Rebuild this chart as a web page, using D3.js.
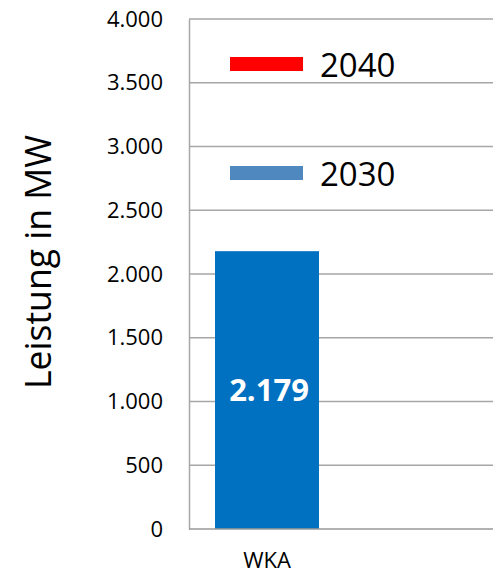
<!DOCTYPE html>
<html>
<head>
<meta charset="utf-8">
<script src="https://cdn.jsdelivr.net/npm/d3@7"></script>
<style>
  html, body { margin: 0; padding: 0; background: #fff; }
  svg { display: block; font-family: "Open Sans", sans-serif; }
</style>
</head>
<body>
<svg id="chart" width="493" height="573"></svg>
<script>
// ---- data ----
const categories = ["WKA"];
const series = ["2040", "2030"];            // legend order (top to bottom)
const values2030 = [2179];
const values2040 = [null];
const yTicks = [0, 500, 1000, 1500, 2000, 2500, 3000, 3500, 4000];
const yTitle = "Leistung in MW";
const colors = { "2030": "#0070C0", "2040": "#FF0000" };
const legendColors = { "2030": "#4F88BE", "2040": "#FF0000" };

// ---- layout ----
const W = 493, H = 573;
const plot = { left: 189, top: 19, bottom: 529, right: 495 };

const de = d3.formatLocale({ decimal: ",", thousands: ".", grouping: [3], currency: ["", " €"] });
const fmt = de.format(",d");

const svg = d3.select("#chart");

const y = d3.scaleLinear().domain([0, 4000]).range([plot.bottom, plot.top]);
const x = d3.scaleBand().domain(categories).range([plot.left, plot.left + 156])
  .paddingInner(0.2).paddingOuter(0.2);

// gridlines
svg.append("g").selectAll("line").data(yTicks.filter(t => t > 0)).join("line")
  .attr("x1", plot.left).attr("x2", plot.right)
  .attr("y1", d => y(d)).attr("y2", d => y(d))
  .attr("stroke", "#a6a6a6").attr("stroke-width", 1.5);

// y axis labels
const yAxis = d3.axisLeft(y).tickValues(yTicks).tickFormat(fmt).tickSize(0).tickPadding(26);
const gy = svg.append("g").attr("transform", `translate(${plot.left},0)`).call(yAxis);
gy.select(".domain").attr("stroke", "#a6a6a6").attr("stroke-width", 1.5);
gy.selectAll("text").attr("font-size", 22).attr("fill", "#000")
  .attr("font-family", "'Open Sans', sans-serif");

// bars (2030)
svg.append("g").selectAll("rect").data(categories.map((c, i) => ({ c, v: values2030[i] })).filter(d => d.v != null))
  .join("rect")
  .attr("x", d => x(d.c)).attr("width", x.bandwidth())
  .attr("y", d => y(d.v)).attr("height", d => y(0) - y(d.v))
  .attr("fill", colors["2030"]);

// x axis baseline
svg.append("line").attr("x1", plot.left).attr("x2", plot.right)
  .attr("y1", y(0)).attr("y2", y(0)).attr("stroke", "#999").attr("stroke-width", 1.5);

// bar labels
svg.append("g").selectAll("text").data(categories.map((c, i) => ({ c, v: values2030[i] })).filter(d => d.v != null))
  .join("text")
  .attr("x", d => x(d.c) + x.bandwidth() / 2 + 2)
  .attr("y", d => (y(d.v) + y(0)) / 2)
  .attr("dy", "0.36em")
  .attr("text-anchor", "middle")
  .attr("font-size", 31).attr("font-weight", "bold").attr("fill", "#fff")
  .text(d => fmt(d.v));

// category labels
svg.append("g").selectAll("text").data(categories).join("text")
  .attr("x", d => x(d) + x.bandwidth() / 2)
  .attr("y", 568)
  .attr("text-anchor", "middle")
  .attr("font-size", 22).attr("fill", "#000")
  .text(d => d);

// y title
svg.append("text")
  .attr("transform", "translate(51,262) rotate(-90)")
  .attr("text-anchor", "middle")
  .attr("font-size", 37).attr("fill", "#000")
  .attr("textLength", 254).attr("lengthAdjust", "spacingAndGlyphs")
  .text(yTitle);

// legend
const legendY = { "2040": 57, "2030": 166 };
const lg = svg.append("g").selectAll("g").data(series).join("g")
  .attr("transform", d => `translate(230,${legendY[d]})`);
lg.append("rect").attr("width", 73).attr("height", 14).attr("fill", d => legendColors[d]);
lg.append("text").attr("x", 90).attr("y", 20).attr("font-size", 33).attr("fill", "#000").text(d => d);
</script>
</body>
</html>
